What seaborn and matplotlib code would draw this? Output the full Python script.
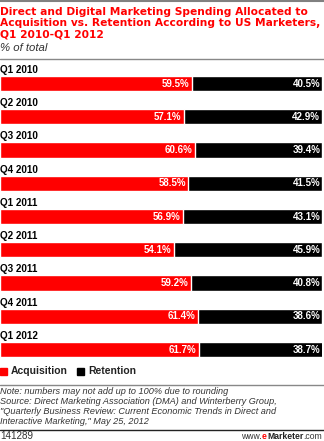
import matplotlib
matplotlib.use("Agg")
import matplotlib.pyplot as plt
import seaborn as sns
import pandas as pd
from matplotlib.lines import Line2D
from matplotlib.patches import Rectangle

categories = ["Q1 2010", "Q2 2010", "Q3 2010", "Q4 2010", "Q1 2011",
              "Q2 2011", "Q3 2011", "Q4 2011", "Q1 2012"]
acquisition = [59.5, 57.1, 60.6, 58.5, 56.9, 54.1, 59.2, 61.4, 61.7]
retention = [40.5, 42.9, 39.4, 41.5, 43.1, 45.9, 40.8, 38.6, 38.7]

sns.set_theme(style="white")
plt.rcParams['font.family'] = ['Liberation Sans', 'DejaVu Sans']

W, H = 324, 441
fig = plt.figure(figsize=(W / 100, H / 100), dpi=100)
fig.canvas.draw()
R = fig.canvas.get_renderer()

def fy(px):
    return 1 - px / H

def fx(px):
    return px / W

def fit_size(text, target, **kw):
    probe = fig.text(0, 0, text, fontsize=8, **kw)
    w = probe.get_window_extent(R).width
    probe.remove()
    return 8 * target / w

RED = "#ff0000"

df = pd.DataFrame({"cat": categories,
                   "acq": acquisition,
                   "total": [a + r for a, r in zip(acquisition, retention)]})

step = 33.25
top_px = 83.5 - step
bot_px = 83.5 + 8.5 * step
ax = fig.add_axes([0, fy(bot_px), fx(322), (bot_px - top_px) / H])
sns.barplot(data=df, x="total", y="cat", color="black", width=0.46,
            saturation=1, ax=ax, orient="h")
sns.barplot(data=df, x="acq", y="cat", color=RED, width=0.46,
            saturation=1, ax=ax, orient="h")
ax.set_xlim(0, 100)
ax.set_ylim(8.5, -1)
ax.axis("off")

cat_size = fit_size("Q1 2010", 38, fontweight="bold")
for i, (c, a, r) in enumerate(zip(categories, acquisition, retention)):
    ax.text(0, i - 0.41, c, ha="left", va="center", fontsize=cat_size,
            fontweight="bold", color="black", clip_on=False)
    ax.annotate(f"{a:.1f}%", (a, i), xytext=(-1.8, 0), textcoords="offset points",
                ha="right", va="center", fontsize=7, fontweight="bold", color="white")
    ax.annotate(f"{r:.1f}%", (100, i), xytext=(-1.3, 0), textcoords="offset points",
                ha="right", va="center", fontsize=7, fontweight="bold", color="white")

# lines
fig.add_artist(Line2D([0, 1], [fy(0.5), fy(0.5)], color="#808080", lw=1.5))
fig.add_artist(Line2D([0, 1], [fy(58.5), fy(58.5)], color="#888888", lw=1))
fig.add_artist(Line2D([0, 1], [fy(384.5), fy(384.5)], color="#888888", lw=1))
fig.add_artist(Line2D([0, 1], [fy(430), fy(430)], color="#222222", lw=1))

# title
title_lines = ["Direct and Digital Marketing Spending Allocated to",
               "Acquisition vs. Retention According to US Marketers,",
               "Q1 2010-Q1 2012"]
tsize = fit_size(title_lines[1], 316, fontweight="bold", family="DejaVu Sans")
for k, line in enumerate(title_lines):
    fig.text(fx(0.5), fy(15 + 11.3 * k), line, ha="left", va="baseline",
             fontsize=tsize, fontweight="bold", color=RED, family="DejaVu Sans")
psize = fit_size("% of total", 48, style="italic")
fig.text(fx(0.5), fy(51), "% of total", ha="left", va="baseline", fontsize=psize,
         style="italic", color="#333333")

# legend
fig.add_artist(Rectangle((fx(0), fy(375)), fx(7), 7 / H, color=RED,
                         transform=fig.transFigure))
fig.text(fx(11), fy(371.5), "Acquisition", ha="left", va="center", fontsize=7.5,
         fontweight="bold", color="#222222")
fig.add_artist(Rectangle((fx(77), fy(375)), fx(7), 7 / H, color="black",
                         transform=fig.transFigure))
fig.text(fx(88), fy(371.5), "Retention", ha="left", va="center", fontsize=7.5,
         fontweight="bold", color="#222222")

note_lines = ["Note: numbers may not add up to 100% due to rounding",
              "Source: Direct Marketing Association (DMA) and Winterberry Group,",
              "\"Quarterly Business Review: Current Economic Trends in Direct and",
              "Interactive Marketing,\" May 25, 2012"]
nsize = fit_size(note_lines[1], 278, style="italic")
for k, line in enumerate(note_lines):
    fig.text(fx(0.5), fy(394 + 10 * k), line, ha="left", va="baseline",
             fontsize=nsize, style="italic", color="#333333")

idsize = fit_size("141289", 33)
fig.text(fx(0.5), fy(439), "141289", ha="left", va="baseline", fontsize=idsize,
         color="#333333")

# eMarketer logo text
parts = [("www.", "normal", "#333333"), ("e", "bold", RED),
         ("Marketer", "bold", "#222222"), (".com", "normal", "#333333")]
total_w = 0
for txt, wgt, _ in parts:
    p = fig.text(0, 0, txt, fontsize=8, fontweight=wgt)
    total_w += p.get_window_extent(R).width
    p.remove()
lsize = 8 * 80 / total_w
x = 322
for txt, wgt, col in reversed(parts):
    t = fig.text(x / W, fy(439), txt, ha="right", va="baseline", fontsize=lsize,
                 fontweight=wgt, color=col)
    x = t.get_window_extent(R).x0

fig.savefig("out.png", dpi=100)
